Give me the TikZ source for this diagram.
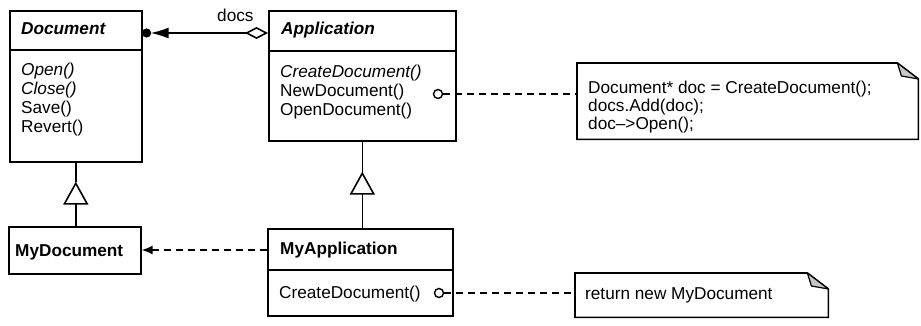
\documentclass[tikz,border=0pt]{standalone}
\usepackage{fontspec}
\setmainfont{Liberation Sans}
\usetikzlibrary{arrows.meta,calc}
\tikzset{
  ln/.style={line width=1.6pt},
  cls/.style={draw, line width=1.6pt, rectangle, inner sep=0pt, anchor=north west},
  notebox/.style={inner sep=0pt, rectangle, anchor=north west},
  txt/.style={inner sep=0pt, anchor=base west, font=\fontsize{17.2}{19}\selectfont},
  dashline/.style={line width=1.6pt, dash pattern=on 7pt off 5pt},
  lollipop/.style={circle, draw, line width=1.4pt, inner sep=0pt, minimum size=9pt},
  foldfill/.style={line width=1.2pt, fill=gray!45, line join=round}
}
\begin{document}
\begin{tikzpicture}[x=1pt,y=-1pt]
\useasboundingbox (0,0) rectangle (921,326);

% Document
\node[cls, minimum width=132pt, minimum height=151pt] (doc) at (9,10) {};
\draw[ln] ($(doc.north west)+(0,40)$) -- ($(doc.north east)+(0,40)$);
\node[txt] (docname) at (21,35) {\bfseries\itshape Document};
\node[txt] (dop1) at (21,76) {\itshape Open()};
\node[txt] (dop2) at (21,95) {\itshape Close()};
\node[txt] (dop3) at (21,114) {Save()};
\node[txt] (dop4) at (21,133) {Revert()};

% Application
\node[cls, minimum width=187pt, minimum height=130pt] (app) at (268,10) {};
\draw[ln] ($(app.north west)+(0,41)$) -- ($(app.north east)+(0,41)$);
\node[txt] (appname) at (281,35) {\bfseries\itshape Application};
\node[txt] (aop1) at (280,78) {\itshape CreateDocument()};
\node[txt] (aop2) at (280,97) {NewDocument()};
\node[txt] (aop3) at (280,116) {OpenDocument()};
\node[lollipop] (o1) at (438,94) {};

% MyDocument
\node[cls, minimum width=132pt, minimum height=47pt] (mydoc) at (8,226) {};
\node[txt] (mydocname) at (15,256) {\bfseries MyDocument};

% MyApplication
\node[cls, minimum width=185pt, minimum height=87pt] (myapp) at (267,228) {};
\draw[ln] ($(myapp.north west)+(0,42)$) -- ($(myapp.north east)+(0,42)$);
\node[txt] (myappname) at (280,254) {\bfseries MyApplication};
\node[txt] (myop1) at (279,298) {CreateDocument()};
\node[lollipop] (o2) at (439,293) {};

% Note 1
\node[notebox, minimum width=341pt, minimum height=76pt] (note1) at (577,63) {};
\draw[ln] (note1.north west) -- ($(note1.north east)+(-21,0)$) -- ($(note1.north east)+(0,16)$) -- (note1.south east) -- (note1.south west) -- cycle;
\filldraw[foldfill] ($(note1.north east)+(-21,0)$) -- ($(note1.north east)+(-17,13)$) -- ($(note1.north east)+(0,16)$) -- cycle;
\node[txt] (n1a) at (588,94) {Document* doc = CreateDocument();};
\node[txt] (n1b) at (588,112) {docs.Add(doc);};
\node[txt] (n1c) at (588,130) {doc–>Open();};

% Note 2
\node[notebox, minimum width=253pt, minimum height=44pt] (note2) at (575,273) {};
\draw[ln] (note2.north west) -- ($(note2.north east)+(-21,0)$) -- ($(note2.north east)+(0,16)$) -- (note2.south east) -- (note2.south west) -- cycle;
\filldraw[foldfill] ($(note2.north east)+(-21,0)$) -- ($(note2.north east)+(-17,13)$) -- ($(note2.north east)+(0,16)$) -- cycle;
\node[txt] (n2a) at (585,299) {return new MyDocument};

% composition docs
\coordinate (cL) at ($(doc.north east)+(0,23)$);
\coordinate (cR) at ($(app.north west)+(0,23)$);
\draw[ln, {Diamond[open,length=23pt,width=12pt]}-{Latex[length=18pt,width=11pt]}, shorten >=8pt] (cR) -- (cL);
\fill ($(cL)+(4,0)$) circle (4.6pt);
\node[txt] (docslbl) at (217,22) {docs};

% generalizations
\coordinate (t1) at ($(doc.south)+(0,19)$);
\draw[ln, -{Triangle[open,length=23pt,width=25pt]}] (mydoc.north -| t1) -- (t1);
\draw[ln] (t1) -- (doc.south);
\coordinate (t2) at ($(app.south)+(0,30)$);
\draw[ln, -{Triangle[open,length=23pt,width=25pt]}] (myapp.north -| t2) -- (t2);
\draw[ln] (t2) -- (app.south);

% dependency
\coordinate (d1) at ($(myapp.north west)+(0,22)$);
\draw[dashline, -{Latex[length=11pt,width=9pt]}] (d1) -- (d1 -| mydoc.east);

% note links
\draw[dashline] (o1.east) -- (o1.east -| note1.west);
\draw[dashline] (o2.east) -- (o2.east -| note2.west);
\end{tikzpicture}
\end{document}
